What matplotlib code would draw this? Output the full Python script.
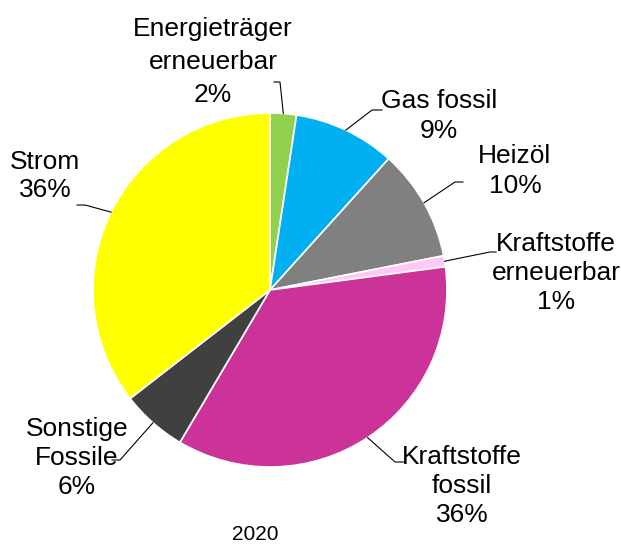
import numpy as np
import matplotlib.pyplot as plt

plt.rcParams['font.family'] = ['Liberation Sans', 'DejaVu Sans']

# Data (share of final energy, 2020)
categories = ["Energieträger\nerneuerbar", "Gas fossil", "Heizöl", "Kraftstoffe\nerneuerbar",
              "Kraftstoffe\nfossil", "Sonstige\nFossile", "Strom"]
values = [2.4, 9.3, 10.2, 1.0, 35.6, 6.0, 35.5]
colors = ["#92D050", "#00B0F0", "#808080", "#FFC8F5", "#CC3399", "#404040", "#FFFF00"]
year = "2020"

W, H = 621, 548
fig = plt.figure(figsize=(W / 100, H / 100), dpi=100)
ax = fig.add_axes([0, 0, 1, 1])
ax.axis('off')

cx, cy, r = 270, H - 290, 177
wedges, _ = ax.pie(values, colors=colors, startangle=90, counterclock=False,
                   center=(cx, cy), radius=r,
                   wedgeprops=dict(edgecolor='white', linewidth=1.2))
ax.set_xlim(0, W)
ax.set_ylim(0, H)
ax.set_aspect('equal')

# label centre, elbow point, line end (image coords)
label_pos = [(213, 62), (439, 116), (515, 171), (556, 273), (462, 486), (77, 458), (45, 176)]
line_sp = [1.45, 1.35, 1.35, 1.25, 1.28, 1.28, 1.2]
elbows = [(280, 82), (372, 110), (455, 182), (490, 252), (395, 462), (120, 460), (85, 205)]
ends = [(274, 82), (382, 110), (463, 182), (496, 252), (405, 462), (112, 460), (77, 205)]

total = sum(values)
for w, cat, v, lp, ls, el, en in zip(wedges, categories, values, label_pos, line_sp, elbows, ends):
    mid = np.deg2rad((w.theta1 + w.theta2) / 2)
    rx, ry = cx + r * np.cos(mid), cy + r * np.sin(mid)
    ax.plot([rx, el[0], en[0]], [ry, H - el[1], H - en[1]], color='black', lw=0.8)
    ax.text(lp[0], H - lp[1], f"{cat}\n{round(v / total * 100):.0f}%", ha='center', va='center',
            fontsize=19, linespacing=ls)

ax.text(255, H - 535, year, ha='center', va='center', fontsize=15)

fig.savefig("out.png", dpi=100)
